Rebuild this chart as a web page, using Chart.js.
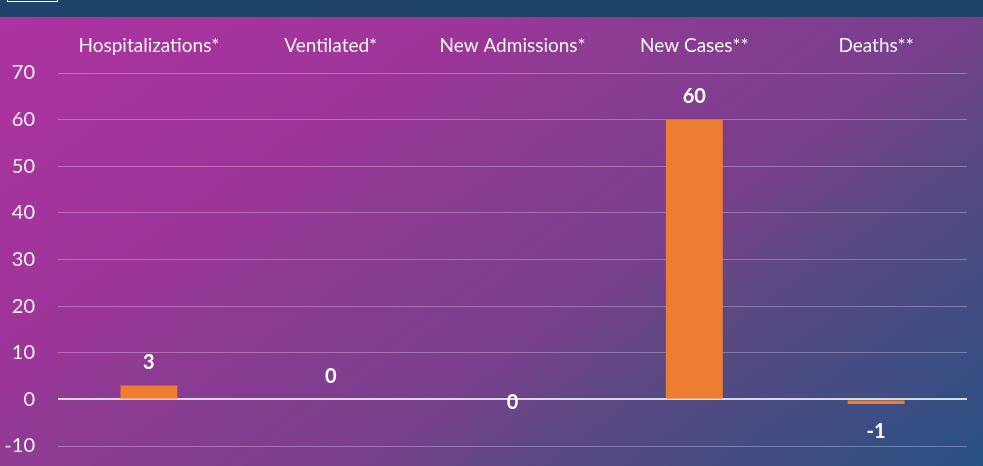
<!DOCTYPE html>
<html>
<head>
<meta charset="utf-8">
<script src="https://cdn.jsdelivr.net/npm/chart.js@4/dist/chart.umd.min.js"></script>
<style>
  html, body { margin: 0; padding: 0; width: 983px; height: 466px; overflow: hidden; }
  body { position: relative; background: #1e4369; }
  #band { position: absolute; left: 0; top: 0; width: 983px; height: 17px; background: #1e4369; }
  #tab { position: absolute; left: 7px; top: -2px; width: 49px; height: 2px; border: 1px solid #ffffff; background: #1e4369; }
  #bg { position: absolute; left: 0; top: 17px; width: 983px; height: 449px;
        background: linear-gradient(144deg, #ad33a0 0%, #9c3598 31%, #8e3b93 39%, #773f8c 61%, #5e4883 70%, #285183 100%); }
  #wrap { position: absolute; left: 0; top: 17px; width: 983px; height: 449px; }
  #c { display: block; }
</style>
</head>
<body>
<div id="band"></div>
<div id="tab"></div>
<div id="bg"></div>
<div id="wrap"><canvas id="c" width="983" height="449"></canvas></div>
<script>
const categories = ["Hospitalizations*", "Ventilated*", "New Admissions*", "New Cases**", "Deaths**"];
const values = [3, 0, 0, 60, -1];
const yTicks = [-10, 0, 10, 20, 30, 40, 50, 60, 70];

const FONT = "Lato, 'Open Sans', sans-serif";

const labelPlugin = {
  id: 'valueLabels',
  afterDatasetsDraw(chart, args, opts) {
    const ctx = chart.ctx;
    const meta = chart.getDatasetMeta(0);
    const yScale = chart.scales.y;
    ctx.save();
    ctx.fillStyle = '#ffffff';
    ctx.font = "bold 20px " + FONT;
    ctx.textAlign = 'center';
    ctx.textBaseline = 'middle';
    meta.data.forEach((bar, i) => {
      const v = chart.data.datasets[0].data[i];
      const py = yScale.getPixelForValue(v);
      let y;
      if (opts.centered && opts.centered.includes(i)) y = yScale.getPixelForValue(0) + 3;
      else if (v >= 0) y = py - 23;
      else y = py + 28;
      ctx.fillText(String(v), bar.x, y);
    });
    ctx.restore();
  }
};

new Chart(document.getElementById('c'), {
  type: 'bar',
  data: {
    labels: categories,
    datasets: [{
      data: values,
      backgroundColor: '#ed7d31',
      borderWidth: 0,
      categoryPercentage: 1,
      barPercentage: 0.313
    }]
  },
  plugins: [labelPlugin],
  options: {
    responsive: false,
    animation: false,
    layout: { padding: { left: 0, right: 16, top: 0, bottom: 20 } },
    plugins: {
      legend: { display: false },
      tooltip: { enabled: false },
      valueLabels: { centered: [2] }
    },
    scales: {
      x: {
        position: 'top',
        grid: { display: false, drawTicks: false },
        border: { display: false },
        ticks: { color: '#f2f2f2', font: { family: FONT, size: 19 }, padding: 16, maxRotation: 0 },
        afterFit(scale) { scale.height = 56; }
      },
      y: {
        min: -10, max: 70,
        afterBuildTicks(scale) { scale.ticks = yTicks.map(v => ({ value: v })); },
        grid: {
          drawTicks: false,
          color: c => c.tick && c.tick.value === 0 ? '#d9d9d9' : 'rgba(255,255,255,0.28)',
          lineWidth: c => c.tick && c.tick.value === 0 ? 2 : 1
        },
        border: { display: false },
        ticks: { color: '#f2f2f2', font: { family: FONT, size: 20 }, padding: 23 },
        afterFit(scale) { scale.width = 58; scale.paddingTop = 0; scale.paddingBottom = 0; }
      }
    }
  }
});
</script>
</body>
</html>
